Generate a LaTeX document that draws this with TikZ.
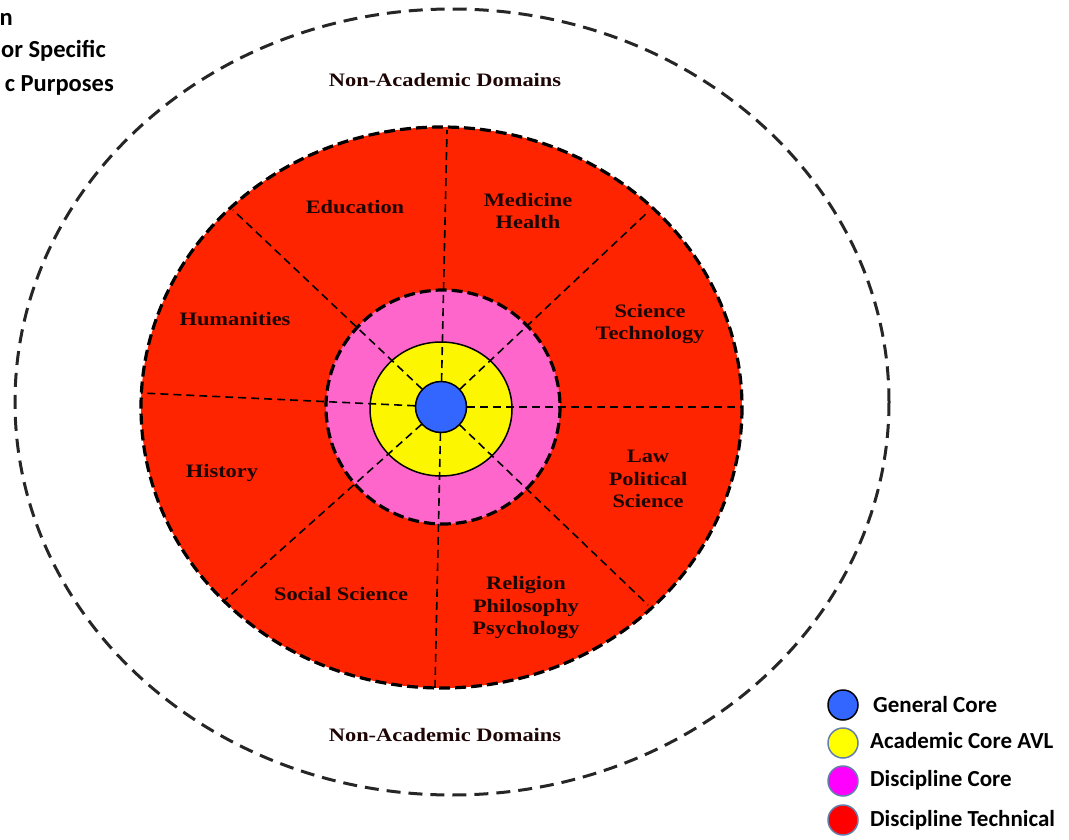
\documentclass[tikz,border=0pt]{standalone}
\usepackage{fontspec}
\setmainfont{Carlito}
\newfontfamily\domainfont[FakeStretch=1.18]{Liberation Serif}
\usetikzlibrary{positioning}
\definecolor{techred}{RGB}{255,36,0}
\definecolor{corepink}{RGB}{255,102,204}
\definecolor{avlyellow}{RGB}{252,246,0}
\definecolor{genblue}{RGB}{50,102,255}
\definecolor{keyyellow}{RGB}{255,255,0}
\definecolor{keymagenta}{RGB}{255,0,255}
\definecolor{keyred}{RGB}{255,0,0}
\definecolor{keyrim}{RGB}{100,125,170}
\definecolor{labelink}{RGB}{30,5,5}
\tikzset{
  sector/.style={font=\domainfont\bfseries\fontsize{19}{22.5}\selectfont, align=center, text=labelink, inner sep=0pt},
  keytext/.style={font=\bfseries\fontsize{23}{27}\selectfont, anchor=west, inner sep=0pt},
  titletext/.style={font=\bfseries\fontsize{24.5}{28}\selectfont, anchor=base east, inner sep=0pt},
  keydot/.style={circle, minimum size=30pt, inner sep=0pt, line width=1.5pt, draw=keyrim},
  spoke/.style={dash pattern=on 8pt off 5pt, line width=1.6pt},
}
\begin{document}
\begin{tikzpicture}[x=1pt, y=-1pt]
        \useasboundingbox (0,0) rectangle (1069,840);
        % outer boundary
        \draw[black!85, line width=3pt, dash pattern=on 14pt off 8pt] (452,402) ellipse [x radius=437, y radius=393];
        % rings
        \fill[techred] (441.5,407.5) ellipse [x radius=300.5, y radius=280.5];
        \fill[corepink] (443,407) circle (117);
        \fill[avlyellow] (441,409) ellipse [x radius=71, y radius=67];
        \coordinate (mid) at (441,407);
        \coordinate (rimN) at (447,130);
        \coordinate (rimNE) at (649,211);
        \coordinate (rimE) at (742,407);
        \coordinate (rimSE) at (648,605);
        \coordinate (rimS) at (435,688);
        \coordinate (rimSW) at (225,600);
        \coordinate (rimW) at (141,393);
        \coordinate (rimNW) at (233,210);
        \draw[spoke] (mid) -- (rimN);
        \draw[spoke] (mid) -- (rimNE);
        \draw[spoke] (mid) -- (rimE);
        \draw[spoke] (mid) -- (rimSE);
        \draw[spoke] (mid) -- (rimS);
        \draw[spoke] (mid) -- (rimSW);
        \draw[spoke] (mid) -- (rimW);
        \draw[spoke] (mid) -- (rimNW);
        \draw[line width=3.2pt, dash pattern=on 11pt off 5pt] (441.5,407.5) ellipse [x radius=300.5, y radius=280.5];
        \draw[line width=3.2pt, dash pattern=on 11pt off 5pt] (443,407) circle (117);
        \draw[line width=1.5pt] (441,409) ellipse [x radius=71, y radius=67];
        \node[circle, minimum size=51pt, inner sep=0pt, fill=genblue, draw, line width=1.5pt] (hub) at (mid) {};
        % labels
        \node[sector] (topdom) at (445,80) {Non-Academic Domains};
        \node[sector] (botdom) at (445,735) {Non-Academic Domains};
        \node[sector] (edu) at (355,207) {Education};
        \node[sector] (med) at (528,211) {Medicine\\Health};
        \node[sector] (hum) at (235,319) {Humanities};
        \node[sector] (sci) at (650,324) {Science\\Technology};
        \node[sector] (hist) at (222,473) {History};
        \node[sector] (law) at (648,479) {Law\\Political\\Science};
        \node[sector] (soc) at (341,594) {Social Science};
        \node[sector] (rel) at (526,608) {Religion\\Philosophy\\Psychology};
        % title, cut at the edge
        \node[titletext] (titleA) at (13,26) {n};
        \node[titletext] (titleB) at (106,58) {or Specific};
        \node[titletext] (titleC) at (114,92) {c Purposes};
        % key
        \node[keydot, fill=genblue, draw=black] (dotA) at (843,705) {};
        \node[keydot, fill=keyyellow] (dotB) at (843,743) {};
        \node[keydot, fill=keymagenta] (dotC) at (843,781) {};
        \node[keydot, fill=keyred] (dotD) at (843,820) {};
        \node[keytext] (keyA) at (873,705) {General Core};
        \node[keytext] (keyB) at (870,741) {Academic Core AVL};
        \node[keytext] (keyC) at (870,780) {Discipline Core};
        \node[keytext] (keyD) at (870,820) {Discipline Technical};
    \end{tikzpicture}
\end{document}
